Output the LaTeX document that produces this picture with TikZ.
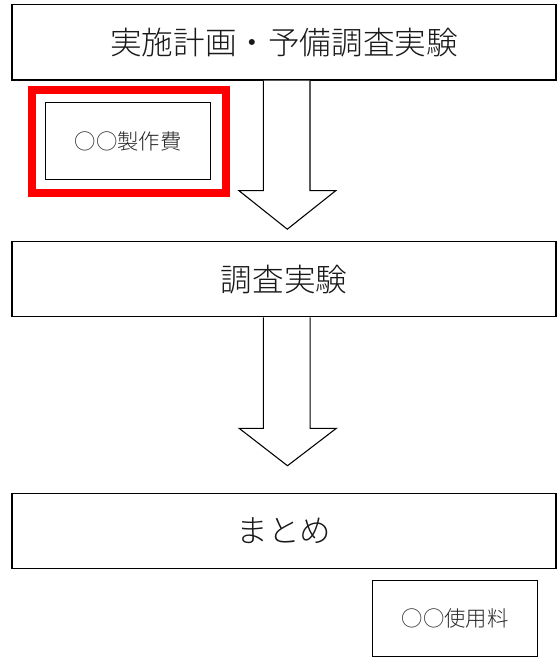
\documentclass[tikz,border=0pt]{standalone}
\usepackage{fontspec}
\setmainfont{Noto Sans CJK JP}[UprightFont=* Light]
\usetikzlibrary{calc}
\tikzset{
  bigbox/.style={draw=black, line width=1.1pt, fill=white, inner sep=0pt,
    minimum width=408pt, font=\fontsize{23.7pt}{28pt}\selectfont, text=black!90},
  smallbox/.style={draw=black, line width=1.1pt, inner sep=0pt,
    font=\fontsize{16pt}{19pt}\selectfont, text=black!85},
  redframe/.style={draw={rgb,255:red,255;green,0;blue,0}, line width=6pt, inner sep=0pt},
  blockarrow/.style={draw=black, line width=0.8pt, fill=white, line join=miter}
}
\begin{document}
\begin{tikzpicture}[x=0.75pt, y=-0.75pt]
\useasboundingbox (0,0) rectangle (557,657);
% main boxes
\node[bigbox, minimum height=56.5pt] (b1) at (284,42.3) {実施計画・予備調査実験};
\node[bigbox, minimum height=56.25pt] (b2) at (284,279.2) {調査実験};
\node[bigbox, minimum height=56.4pt] (b3) at (284,530.9) {まとめ};
% red frame and cost box
\node[redframe, minimum width=145.5pt, minimum height=76.9pt] (red) at (129,141.25) {};
\node[smallbox, minimum width=123.75pt, minimum height=57.5pt] (c1) at (128.2,141) {○○製作費};
% usage fee box
\node[smallbox, minimum width=123.5pt, minimum height=56.9pt] (c2) at (455,618.6) {○○使用料};
% block arrows
\draw[blockarrow] ($(b1.south)+(-20.7,0)$) -- ++(0,110) -- ++(-24.3,0) -- ++(48.3,38.5)
  -- ++(48.4,-38.5) -- ++(-25.7,0) -- ++(0,-110);
\draw[blockarrow] ($(b2.south)+(-20.7,0)$) -- ++(0,111) -- ++(-24,0) -- ++(48.2,37.3)
  -- ++(48.7,-37.3) -- ++(-26,0) -- ++(0,-111);
\end{tikzpicture}
\end{document}
